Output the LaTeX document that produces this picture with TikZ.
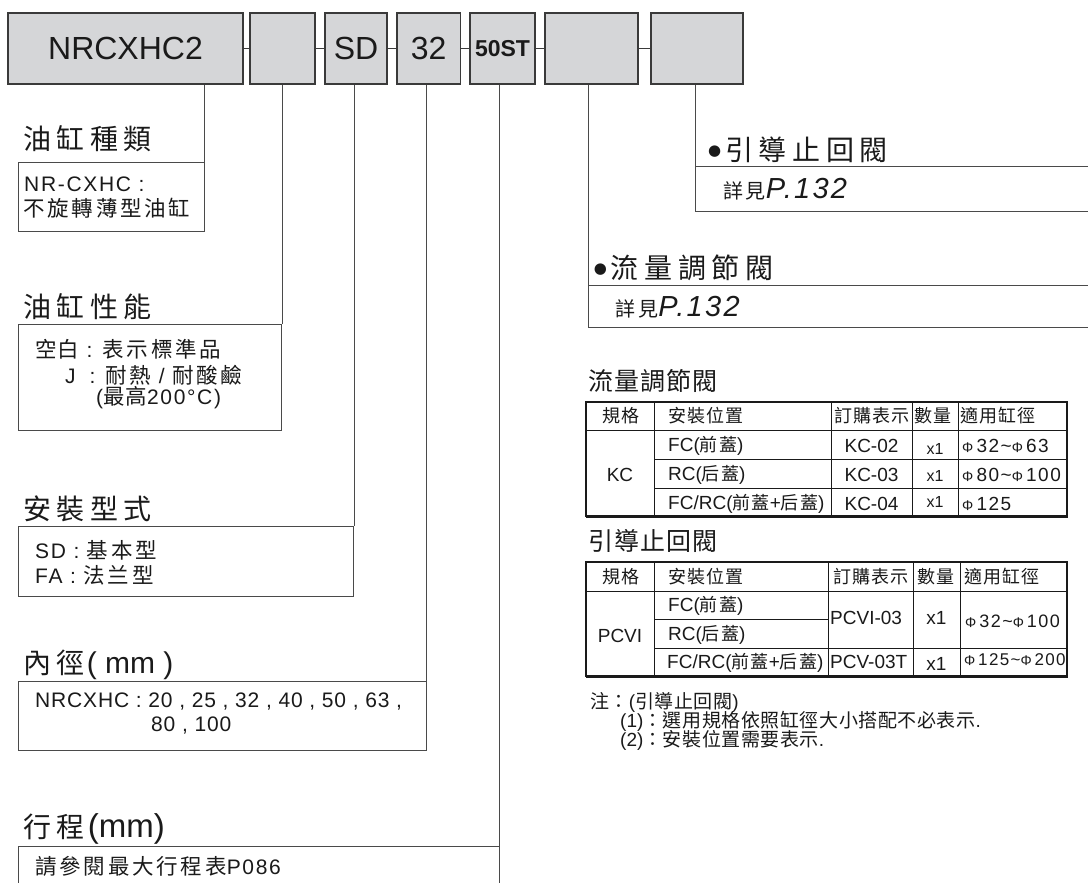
\documentclass[tikz,border=0pt]{standalone}
\usepackage{fontspec}
\setmainfont{Liberation Sans}[LetterSpace=8]
\newfontfamily\laN{Liberation Sans}
\newfontfamily\laS{Liberation Sans}[LetterSpace=4]
\newfontfamily\cjA{Noto Sans CJK TC}[LetterSpace=20]
\newfontfamily\cjB{Noto Sans CJK TC}[LetterSpace=13]
\newfontfamily\cjC{Noto Sans CJK TC}[LetterSpace=7]
\newfontfamily\cjD{Noto Sans CJK TC}[LetterSpace=4]
\newfontfamily\cjN{Noto Sans CJK TC}[LetterSpace=3]
\newfontfamily\djv{DejaVu Sans}
\definecolor{txt}{HTML}{1A1A1A}
\definecolor{boxfill}{HTML}{D5D6D8}
\definecolor{linec}{HTML}{3A3A3A}
\definecolor{vlc}{HTML}{4A4A4A}
\newcommand\fs[1]{\fontsize{#1}{#1}\selectfont}
\newcommand\Cb[1]{{\cjB\fs{21.5}#1}}
\newcommand\Ct[1]{{\cjC\fs{18}#1}}
\newcommand\phic{{\laN\fs{14}Φ}\,}
\newcommand\bul{\raisebox{5pt}{\djv\fs{15}●}\hspace{4pt}}
\begin{document}
\begin{tikzpicture}[x=1pt,y=-1pt,
  topbox/.style={draw=linec, fill=boxfill, line width=1.2pt, inner sep=0pt, minimum height=71pt, text=txt},
  conn/.style={draw=linec, line width=1.2pt},
  vline/.style={draw=vlc, line width=1pt},
  infobox/.style={draw=vlc, line width=1pt, inner sep=0pt},
  lbl/.style={anchor=west, inner sep=0pt, text=txt},
  ctr/.style={inner sep=0pt, text=txt},
  tline/.style={draw=txt, line width=0.9pt},
  touter/.style={draw=txt, line width=1.3pt},
  tshadow/.style={draw=txt, line width=2.4pt},
  htitle/.style={lbl, font=\cjA\fs{28}},
  ctext/.style={lbl, font=\fs{21}},
  ttext/.style={font=\cjC\fs{18}},
  tlat/.style={font=\laN\fs{19}},
  tphi/.style={font=\fs{19}},
]
\useasboundingbox (0,0) rectangle (1088,883);
\fill[white] (0,0) rectangle (1088,883);

% ---- top code boxes
\node[topbox, minimum width=235pt, font=\laN\fs{32}] (b1) at (125.5,48.5) {NRCXHC2};
\node[topbox, minimum width=65pt] (b2) at (282.5,48.5) {};
\node[topbox, minimum width=62pt, font=\laN\fs{32}] (b3) at (356,48.5) {SD};
\node[topbox, minimum width=63.5pt, font=\laN\fs{32}] (b4) at (428.75,48.5) {32};
\node[topbox, minimum width=65pt, font=\laN\bfseries\fs{23}] (b5) at (502.5,48.5) {50ST};
\node[topbox, minimum width=93pt] (b6) at (591.5,48.5) {};
\node[topbox, minimum width=92pt] (b7) at (697,48.5) {};
\foreach \a/\b in {b1/b2,b2/b3,b3/b4,b4/b5,b5/b6,b6/b7} \draw[conn] (\a) -- (\b);

% ---- left info boxes
\node[infobox, minimum width=186pt, minimum height=69pt] (i1) at (111,196.5) {};
\node[infobox, minimum width=263.5pt, minimum height=106pt] (i2) at (149.75,377) {};
\node[infobox, minimum width=335.6pt, minimum height=70pt] (i3) at (185.8,561) {};
\node[infobox, minimum width=408pt, minimum height=69pt] (i4) at (222,715.5) {};
\coordinate (i5sw) at (18,883);
\coordinate (i5nw) at (18,846);
\coordinate (i5ne) at (499.3,846);
\coordinate (i5se) at (499.3,883);
\draw[vline] (i5sw) -- (i5nw) -- (i5ne);

\draw[vline] (i1.north east |- b1.south) -- (i1.north east);
\draw[vline] (i2.north east |- b2.south) -- (i2.north east);
\draw[vline] (i3.north east |- b3.south) -- (i3.north east);
\draw[vline] (i4.north east |- b4.south) -- (i4.north east);
\draw[vline] (i5ne |- b5.south) -- (i5se);

% ---- right open boxes
\coordinate (r1nw) at (695.3,166.6);
\coordinate (r1sw) at (695.3,211);
\coordinate (r1ne) at (1088,166.6);
\coordinate (r1se) at (1088,211);
\draw[vline] (r1nw |- b7.south) -- (r1sw) -- (r1se);
\draw[vline] (r1nw) -- (r1ne);
\coordinate (r2nw) at (588.8,285);
\coordinate (r2sw) at (588.8,327);
\coordinate (r2ne) at (1088,285);
\coordinate (r2se) at (1088,327);
\draw[vline] (r2nw |- b6.south) -- (r2sw) -- (r2se);
\draw[vline] (r2nw) -- (r2ne);

% ---- left titles and contents
\node[htitle] (h1) at (23,138.5) {油缸種類};
\node[ctext] (c1a) at (24,184) {NR-CXHC :};
\node[ctext] (c1b) at (23,208) {\Cb{不旋轉薄型油缸}};

\node[htitle] (h2) at (23,306.5) {油缸性能};
\node[ctext] (c2a) at (35,349) {{\cjD\fs{21.5}空白} : \Cb{表示標準品}};
\node[ctext] (c2b) at (65,375) {J\hspace{14pt}:\hspace{10pt}\Cb{耐熱} / \Cb{耐酸鹼}};
\node[ctext] (c2c) at (96,398) {({\cjD\fs{21.5}最高}200°C)};

\node[htitle] (h3) at (23,508.5) {安裝型式};
\node[ctext] (c3a) at (35,550) {SD : \Cb{基本型}};
\node[ctext] (c3b) at (35,575) {FA : \Cb{法兰型}};

\node[htitle] (h4) at (23,665) {內徑\hspace{2pt}{\laN\fs{30}( mm )}};
\node[ctext, font=\laS\fs{21}] (c4a) at (35,702) {NRCXHC : 20 , 25 , 32 , 40 , 50 , 63 ,};
\node[ctext, font=\laS\fs{21}] (c4b) at (151,726) {80 , 100};

\node[htitle] (h5) at (23,828.5) {行程\hspace{3pt}{\laN\fs{33}(mm)}};
\node[ctext] (c5) at (35,866) {\Cb{請參閱最大行程表}P086};

% ---- right titles
\node[htitle] (h6) at (708,150.3) {\bul 引導止回閥};
\node[lbl] (h6b) at (723,189) {{\cjB\fs{20}詳見}{\itshape\fs{29}P.132}};
\node[htitle] (h7) at (593.7,267.4) {\bul 流量調節閥};
\node[lbl] (h7b) at (615.6,307) {{\cjB\fs{20}詳見}{\itshape\fs{29}P.132}};

% ---- table 1
\node[lbl, font=\cjD\fs{25}] (tt1) at (588.6,381) {流量調節閥};
\draw[tline] (586,430) -- (1067,430);
\draw[tline] (654,459.5) -- (1067,459.5);
\draw[tline] (654,488) -- (1067,488);
\foreach \x in {654,831,912,958} \draw[tline] (\x,402) -- (\x,516);
\draw[touter] (586,402) rectangle (1067,516);
\draw[tshadow] (1067,402) -- (1067,516.5) -- (586,516.5);

\node[ctr, ttext] (a11) at (621,416) {規格};
\node[lbl, ttext] (a12) at (668,416) {安裝位置};
\node[lbl, ttext] (a13) at (834,416) {訂購表示};
\node[lbl, ttext] (a14) at (914,416) {數量};
\node[lbl, ttext] (a15) at (960,416) {適用缸徑};
\node[ctr, tlat] (a21) at (620,474.5) {KC};
\node[lbl, tlat] (a22) at (668,446) {FC(\Ct{前蓋})};
\node[lbl, tlat] (a32) at (668,474.5) {RC(\Ct{后蓋})};
\node[lbl, tlat] (a42) at (668,504) {FC/RC(\Ct{前蓋}+\Ct{后蓋})};
\node[ctr, tlat] (a23) at (871.5,446) {KC-02};
\node[ctr, tlat] (a33) at (871.5,474.5) {KC-03};
\node[ctr, tlat] (a43) at (871.5,504) {KC-04};
\node[ctr, font=\laN\fs{16}] (a24) at (935,449) {x1};
\node[ctr, font=\laN\fs{16}] (a34) at (935,476) {x1};
\node[ctr, font=\laN\fs{16}] (a44) at (935,502) {x1};
\node[lbl, tphi] (a25) at (962,446) {\phic 32\textasciitilde\phic 63};
\node[lbl, tphi] (a35) at (962,474.5) {\phic 80\textasciitilde\phic 100};
\node[lbl, tphi] (a45) at (962,504) {\phic 125};

% ---- table 2
\node[lbl, font=\cjD\fs{25}] (tt2) at (588.6,541) {引導止回閥};
\draw[tline] (586,591) -- (1067,591);
\draw[tline] (654,619) -- (828,619);
\draw[tline] (654,648) -- (1067,648);
\foreach \x in {654,828,913,960} \draw[tline] (\x,562) -- (\x,676);
\draw[touter] (586,562) rectangle (1067,676);
\draw[tshadow] (1067,562) -- (1067,676.5) -- (586,676.5);

\node[ctr, ttext] (p11) at (621,576.5) {規格};
\node[lbl, ttext] (p12) at (668,576.5) {安裝位置};
\node[lbl, ttext] (p13) at (833,576.5) {訂購表示};
\node[lbl, ttext] (p14) at (917,576.5) {數量};
\node[lbl, ttext] (p15) at (964,576.5) {適用缸徑};
\node[ctr, tlat] (p21) at (620,636) {PCVI};
\node[lbl, tlat] (p22) at (668,606) {FC(\Ct{前蓋})};
\node[lbl, tlat] (p32) at (668,634.5) {RC(\Ct{后蓋})};
\node[lbl, tlat] (p42) at (667,663) {FC/RC(\Ct{前蓋}+\Ct{后蓋})};
\node[lbl, tlat] (p23) at (830,618) {PCVI-03};
\node[ctr, tlat] (p24) at (936.5,618) {x1};
\node[lbl, font=\fs{18}] (p25) at (965,621) {\phic 32\textasciitilde\phic 100};
\node[lbl, tlat] (p43) at (830,662) {PCV-03T};
\node[ctr, tlat] (p44) at (936.5,664) {x1};
\node[lbl, font=\fs{17}] (p45) at (964,660) {\phic 125\textasciitilde\phic 200};

% ---- notes
\node[lbl, font=\laN\fs{19}] (n1) at (590,702) {{\cjN 注：}({\cjN 引導止回閥})};
\node[lbl, font=\laN\fs{19}] (n2) at (620,721) {(1){\cjN ：選用規格依照缸徑大小搭配不必表示}.};
\node[lbl, font=\laN\fs{19}] (n3) at (620,740) {(2){\cjN ：安裝位置需要表示}.};
\end{tikzpicture}
\end{document}
